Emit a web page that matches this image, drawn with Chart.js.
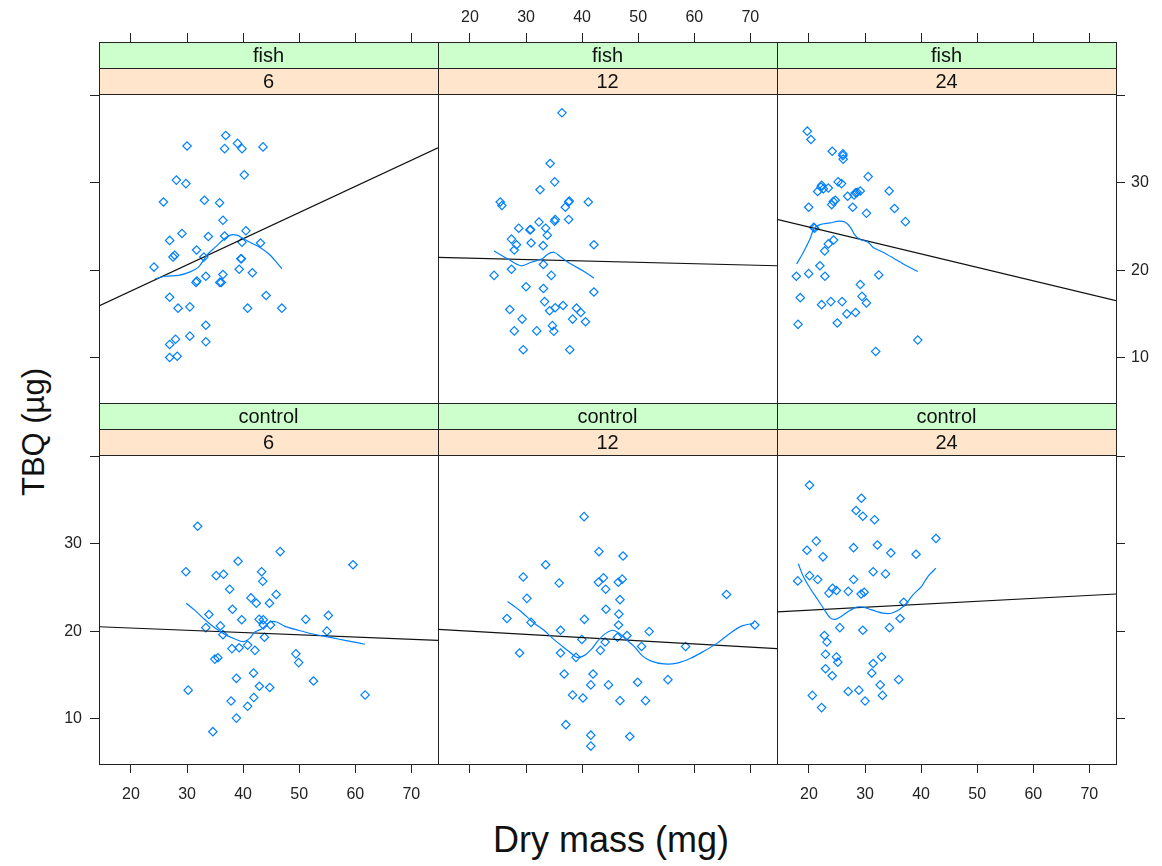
<!DOCTYPE html>
<html>
<head>
<meta charset="utf-8">
<title>TBQ vs dry mass</title>
<script src="https://cdn.jsdelivr.net/npm/chart.js@4.4.1/dist/chart.umd.min.js"></script>
<style>
  body { margin: 0; background: #fff; width: 1162px; height: 866px; position: relative; overflow: hidden;
         font-family: "Liberation Sans", Arial, sans-serif; color: #000; }
  canvas.cell { position: absolute; }
  .title { position: absolute; white-space: nowrap; line-height: 1; color: #111; }
  #ytitle { left: 33px; top: 432px; font-size: 31px; transform: translate(-50%, -50%) rotate(-90deg); }
  #xtitle { left: 611px; top: 840px; font-size: 36px; transform: translate(-50%, -50%); }
</style>
</head>
<body>
<div id="ytitle" class="title">TBQ (µg)</div>
<div id="xtitle" class="title">Dry mass (mg)</div>
<script>
// axis limits and tick values shared by all six panels
const X_MIN = 14.3, X_MAX = 74.75;
const Y_MIN = 4.8, Y_MAX = 46.1;
const xTicks = [20, 30, 40, 50, 60, 70];
const yTicks = [10, 20, 30, 40];

const treatments = ['fish', 'control'];
const hours = ['6', '12', '24'];

// fish, 6 h
const massFish6 = [36.9, 30.0, 36.7, 39.0, 39.8, 43.55, 40.2, 28.1, 29.8, 25.8, 33.1, 35.8, 36.4, 29.1, 26.9, 33.8,
  36.7, 40.5, 39.8, 43.1, 31.7, 27.5, 27.8, 33.0, 39.6, 39.7, 24.1, 39.3, 41.65, 33.35, 36.4, 31.6, 31.75, 35.85,
  36.1, 26.9, 44.1, 28.4, 30.5, 40.8, 46.9, 33.35, 30.5, 27.95, 26.9, 33.35, 26.9, 28.25];
const tbqFish6 = [35.4, 34.2, 33.9, 34.5, 33.9, 34.1, 30.9, 30.3, 29.9, 27.8, 28.0, 27.7, 25.7, 24.2, 23.4, 23.85,
  23.9, 24.5, 23.2, 23.1, 22.3, 21.5, 21.7, 21.5, 21.3, 21.3, 20.35, 20.1, 19.7, 19.3, 19.5, 18.6, 18.75, 18.6,
  18.6, 16.9, 17.1, 15.65, 15.8, 15.65, 15.65, 13.7, 12.45, 12.1, 11.5, 11.8, 10.0, 10.15];
const fitFish6 = [15.9, 34.0];
const smoothMassFish6 = [24.3, 26.1, 28.5, 30.55, 32.05, 33.1, 33.8, 35.0, 36.5, 37.7, 38.9, 40.05, 41.2, 43.0, 44.5, 45.7, 46.9];
const smoothTbqFish6 = [19.0, 19.3, 19.4, 19.8, 20.35, 21.3, 21.9, 22.6, 23.5, 24.0, 24.0, 23.6, 23.2, 22.6, 21.9, 21.1, 20.15];

// fish, 12 h
const massFish12 = [36.4, 34.3, 35.1, 32.5, 25.4, 25.7, 37.7, 37.6, 41.1, 37.0, 35.2, 35.1, 37.6, 32.3, 28.7, 30.7,
  30.8, 33.5, 33.8, 27.4, 28.3, 30.9, 33.05, 27.9, 42.1, 33.1, 27.4, 24.3, 34.5, 30.0, 33.1, 42.1, 33.3, 27.1,
  35.2, 36.6, 39.0, 34.2, 39.75, 29.3, 38.3, 40.6, 34.7, 27.9, 31.9, 34.95, 29.5, 37.8];
const tbqFish12 = [38.0, 32.2, 30.1, 29.2, 27.8, 27.4, 27.9, 27.8, 27.8, 27.2, 25.8, 25.6, 25.8, 25.5, 24.8, 24.6,
  24.65, 24.8, 24.0, 23.55, 22.9, 23.1, 22.8, 22.3, 22.9, 20.65, 20.1, 19.4, 19.4, 18.1, 17.9, 17.5, 16.4, 15.5,
  15.7, 15.95, 15.65, 15.35, 15.15, 14.4, 14.4, 14.1, 13.65, 13.05, 13.05, 13.0, 10.9, 10.9];
const fitFish12 = [21.45, 20.5];
const smoothMassFish12 = [24.3, 26.7, 29.1, 30.9, 32.9, 33.8, 35.0, 36.2, 38.0, 40.35, 42.1];
const smoothTbqFish12 = [22.2, 21.3, 20.5, 20.9, 21.3, 21.8, 22.05, 21.5, 20.7, 19.85, 19.1];

// fish, 24 h
const massFish24 = [19.7, 20.35, 24.15, 26.05, 26.05, 26.1, 30.55, 25.2, 25.8, 22.25, 22.15, 22.55, 23.45, 21.55,
  34.3, 29.15, 28.3, 28.6, 26.9, 28.05, 24.7, 24.35, 24.05, 19.95, 27.8, 35.25, 30.25, 37.2, 20.85, 21.0, 24.4,
  23.45, 22.8, 21.95, 17.75, 19.95, 22.85, 32.45, 29.15, 18.45, 29.45, 22.25, 23.9, 25.9, 30.25, 28.3, 26.75,
  18.05, 25.05, 39.4, 31.9];
const tbqFish24 = [35.9, 34.95, 33.6, 33.3, 33.1, 32.7, 30.7, 30.1, 29.9, 29.7, 29.5, 29.3, 29.4, 29.0,
  29.05, 29.05, 28.85, 28.9, 28.45, 28.6, 28.0, 27.85, 27.5, 27.2, 27.2, 27.05, 26.5, 25.55, 24.9, 24.8, 23.45,
  23.0, 22.2, 20.5, 19.3, 19.6, 19.3, 19.45, 18.35, 16.85, 17.0, 16.05, 16.4, 16.4, 16.25, 15.15, 15.0,
  13.8, 13.95, 12.0, 10.7];
const fitFish24 = [25.8, 16.5];
const smoothMassFish24 = [17.8, 19.0, 20.2, 20.9, 21.95, 23.75, 25.35, 26.4, 27.4, 28.2, 29.1, 30.55, 31.45, 33.2, 35.0, 37.4, 39.4];
const smoothTbqFish24 = [20.7, 22.05, 23.6, 24.75, 25.2, 25.4, 25.6, 25.5, 24.9, 24.0, 23.5, 23.2, 22.6, 22.05, 21.4, 20.5, 19.85];

// control, 6 h
const massCtrl6 = [31.9, 46.6, 39.1, 59.6, 29.8, 43.3, 35.2, 36.5, 43.5, 37.6, 45.9, 41.4, 42.35, 44.7, 38.1, 33.9,
  39.75, 42.85, 43.6, 51.15, 55.2, 33.35, 35.95, 43.6, 44.9, 54.95, 36.4, 43.8, 40.8, 38.0, 39.3, 42.1, 49.4, 49.9,
  34.95, 35.5, 41.85, 38.8, 52.55, 30.2, 42.9, 44.75, 61.75, 37.85, 41.9, 40.8, 38.8, 34.6];
const tbqCtrl6 = [32.0, 29.1, 28.0, 27.6, 26.8, 26.8, 26.35, 26.5, 25.7, 24.8, 24.2, 23.8, 23.2, 23.2, 22.5, 21.9,
  21.3, 21.35, 21.3, 21.35, 21.8, 20.4, 20.6, 20.7, 20.7, 20.0, 19.6, 19.3, 18.4, 18.0, 18.1, 17.8, 17.4, 16.4,
  16.8, 16.95, 15.2, 14.6, 14.3, 13.25, 13.7, 13.55, 12.7, 12.0, 12.4, 11.4, 10.05, 8.5];
const fitCtrl6 = [20.5, 18.95];
const smoothMassCtrl6 = [29.85, 31.45, 33.2, 35.0, 36.8, 38.55, 40.05, 41.2, 42.1, 43.3, 44.8, 45.95, 47.45, 49.85,
  52.2, 54.6, 56.95, 59.35, 61.75];
const smoothTbqCtrl6 = [23.2, 22.35, 21.3, 20.35, 19.6, 19.1, 18.8, 19.2, 19.9, 20.25, 21.05, 21.05, 20.55, 20.1,
  19.7, 19.4, 19.1, 18.8, 18.5];

// control, 12 h
const massCtrl12 = [40.35, 43.0, 47.3, 33.5, 29.5, 43.8, 47.15, 42.9, 46.45, 35.9, 44.2, 65.75, 30.15, 46.75, 44.25,
  46.55, 26.6, 40.4, 30.9, 46.5, 70.8, 36.15, 51.95, 48.0, 46.3, 39.95, 44.1, 50.6, 58.45, 43.25, 28.85, 36.15,
  38.9, 36.8, 41.95, 55.3, 49.9, 41.55, 44.7, 38.3, 40.15, 46.75, 51.3, 37.1, 41.55, 48.5, 41.55];
const tbqCtrl12 = [33.1, 29.1, 28.6, 27.6, 26.2, 26.1, 25.95, 25.6, 25.6, 25.5, 24.8, 24.2, 23.75, 23.6, 22.5,
  21.95, 21.45, 21.35, 21.0, 20.7, 20.7, 20.1, 19.95, 19.5, 19.3, 19.05, 18.75, 18.25, 18.25, 17.8, 17.5, 17.5,
  17.0, 15.1, 15.1, 14.45, 14.15, 13.85, 13.85, 12.7, 12.35, 12.05, 12.05, 9.3, 8.1, 7.95, 6.85];
const fitCtrl12 = [20.2, 18.0];
const smoothMassCtrl12 = [26.7, 29.1, 31.45, 33.2, 34.7, 36.5, 38.0, 39.05, 40.35, 41.55, 42.7, 43.9, 45.4, 46.55,
  47.75, 49.25, 50.7, 52.2, 54.6, 56.95, 59.35, 61.7, 64.05, 66.45, 68.5, 70.6];
const smoothTbqCtrl12 = [23.4, 22.25, 20.9, 20.1, 19.2, 18.25, 17.5, 17.0, 17.2, 17.85, 18.8, 19.6, 20.1, 19.8,
  19.1, 18.25, 17.2, 16.6, 16.25, 16.35, 16.9, 17.7, 18.6, 19.8, 20.6, 20.9];

// control, 24 h
const massCtrl24 = [20.1, 29.35, 28.4, 29.6, 31.7, 42.65, 21.3, 19.65, 27.95, 32.2, 34.6, 22.5, 39.1, 31.45, 33.65,
  20.1, 18.0, 21.55, 27.95, 24.2, 24.9, 23.55, 27.0, 29.3, 29.85, 36.9, 36.25, 25.5, 29.6, 34.35, 22.75, 23.2,
  22.95, 24.9, 25.15, 32.95, 31.45, 22.95, 24.15, 31.2, 36.0, 32.7, 20.6, 27.0, 28.9, 33.1, 22.25, 30.0];
const tbqCtrl24 = [36.7, 35.2, 33.8, 33.15, 32.75, 30.6, 30.3, 29.25, 29.55, 29.85, 28.95, 28.5, 28.8, 26.8, 26.55,
  26.35, 25.75, 25.9, 25.9, 24.9, 24.65, 24.35, 24.55, 24.25, 24.45, 23.3, 21.45, 20.4, 20.1, 20.4, 19.5, 18.75,
  17.35, 17.05, 16.45, 17.05, 16.3, 15.7, 14.9, 15.2, 14.45, 13.85, 12.65, 13.1, 13.25, 12.65, 11.25, 12.0];
const fitCtrl24 = [22.2, 24.25];
const smoothMassCtrl24 = [18.1, 19.0, 20.2, 21.35, 22.55, 23.75, 24.65, 25.8, 27.0, 28.5, 29.7, 30.85, 32.05, 33.2,
  34.7, 36.2, 37.4, 38.55, 40.05, 41.2, 42.65];
const smoothTbqCtrl24 = [27.7, 26.25, 24.9, 23.8, 22.65, 21.55, 21.35, 21.7, 22.25, 22.75, 22.75, 22.5, 22.25, 22.05,
  22.05, 22.5, 23.2, 24.15, 25.1, 26.25, 27.2];

// page layout of the 2 x 3 grid (strip + panel per cell)
const COL_LEFT = [99, 438, 777];
const ROW_TOP = [42, 403];
const CELL_W = 339, CELL_H = 361;
const STRIP_H = 26;
const MARGIN = 60;
const INK = '#222';
const POINT_COL = '#0080ff';

Chart.defaults.font.family = '"Liberation Sans", Arial, sans-serif';

const panels = [
  {row: 0, col: 0, x: massFish6, y: tbqFish6, fit: fitFish6, sx: smoothMassFish6, sy: smoothTbqFish6},
  {row: 0, col: 1, x: massFish12, y: tbqFish12, fit: fitFish12, sx: smoothMassFish12, sy: smoothTbqFish12},
  {row: 0, col: 2, x: massFish24, y: tbqFish24, fit: fitFish24, sx: smoothMassFish24, sy: smoothTbqFish24},
  {row: 1, col: 0, x: massCtrl6, y: tbqCtrl6, fit: fitCtrl6, sx: smoothMassCtrl6, sy: smoothTbqCtrl6},
  {row: 1, col: 1, x: massCtrl12, y: tbqCtrl12, fit: fitCtrl12, sx: smoothMassCtrl12, sy: smoothTbqCtrl12},
  {row: 1, col: 2, x: massCtrl24, y: tbqCtrl24, fit: fitCtrl24, sx: smoothMassCtrl24, sy: smoothTbqCtrl24},
];

// two coloured strips across the top of each panel
const stripPlugin = {
  id: 'strips',
  afterDraw(chart, args, opts) {
    const {ctx, chartArea: a} = chart;
    const w = a.right - a.left;
    const labels = [opts.outer, opts.inner];
    const fills = ['#ccffcc', '#ffe5cc'];
    ctx.save();
    for (let i = 0; i < 2; i++) {
      const y = a.top + i * STRIP_H;
      ctx.fillStyle = fills[i];
      ctx.fillRect(a.left, y, w, STRIP_H);
      ctx.strokeStyle = INK;
      ctx.lineWidth = 1;
      ctx.strokeRect(a.left + 0.5, y + 0.5, w, STRIP_H);
      ctx.fillStyle = '#111';
      ctx.font = '20px "Liberation Sans", Arial, sans-serif';
      ctx.textAlign = 'center';
      ctx.textBaseline = 'middle';
      ctx.fillText(labels[i], a.left + w / 2, y + STRIP_H / 2 + 1);
    }
    ctx.restore();
  }
};

function fixSize(scale) {
  if (scale.isHorizontal()) scale.height = MARGIN; else scale.width = MARGIN;
}

// one outer axis: tick marks only on the outside of the grid, labels alternate
function axis(position, values, min, max, showTicks, showLabels, pad, skip) {
  return {
    type: 'linear', position, min, max,
    afterBuildTicks: s => { s.ticks = values.map(v => ({value: v})); },
    afterFit: fixSize,
    grid: {display: showTicks, drawOnChartArea: false, drawTicks: true, tickLength: 9, color: INK},
    border: {display: true, color: INK, width: 1},
    ticks: {
      display: showTicks,
      color: showLabels ? INK : 'rgba(0,0,0,0)',
      font: {size: 16},
      padding: pad,
      maxRotation: 0,
      autoSkip: false,
      callback: v => (v === skip ? '' : String(v))
    }
  };
}

panels.forEach(p => {
  const cv = document.createElement('canvas');
  cv.className = 'cell';
  cv.width = CELL_W + 2 * MARGIN;
  cv.height = CELL_H + 2 * MARGIN;
  cv.style.left = (COL_LEFT[p.col] - MARGIN) + 'px';
  cv.style.top = (ROW_TOP[p.row] - MARGIN) + 'px';
  document.body.appendChild(cv);

  const top = p.row === 0, bottom = p.row === 1;
  const left = p.col === 0, right = p.col === 2;

  new Chart(cv, {
    type: 'scatter',
    data: {
      datasets: [
        {
          data: p.sx.map((v, i) => ({x: v, y: p.sy[i]})),
          showLine: true, borderColor: POINT_COL, borderWidth: 1.2, pointRadius: 0, tension: 0.3
        },
        {
          data: [{x: X_MIN, y: p.fit[0]}, {x: X_MAX, y: p.fit[1]}],
          showLine: true, borderColor: '#111', borderWidth: 1.2, pointRadius: 0
        },
        {
          data: p.x.map((v, i) => ({x: v, y: p.y[i]})),
          pointStyle: 'rectRot', pointRadius: 4.2, borderWidth: 1.2,
          borderColor: POINT_COL, backgroundColor: 'rgba(0,0,0,0)'
        }
      ]
    },
    options: {
      responsive: false,
      animation: false,
      events: [],
      layout: {padding: 0},
      plugins: {
        legend: {display: false},
        tooltip: {enabled: false},
        strips: {outer: treatments[p.row], inner: hours[p.col]}
      },
      scales: {
        x: axis('bottom', xTicks, X_MIN, X_MAX, bottom, bottom && p.col !== 1, 12, null),
        x2: axis('top', xTicks, X_MIN, X_MAX, top, top && p.col === 1, 6, null),
        y: axis('left', yTicks, Y_MIN, Y_MAX, left, left && bottom, 8, 40),
        y2: axis('right', yTicks, Y_MIN, Y_MAX, right, right && top, 6, 40)
      }
    },
    plugins: [stripPlugin]
  });
});
</script>
</body>
</html>
